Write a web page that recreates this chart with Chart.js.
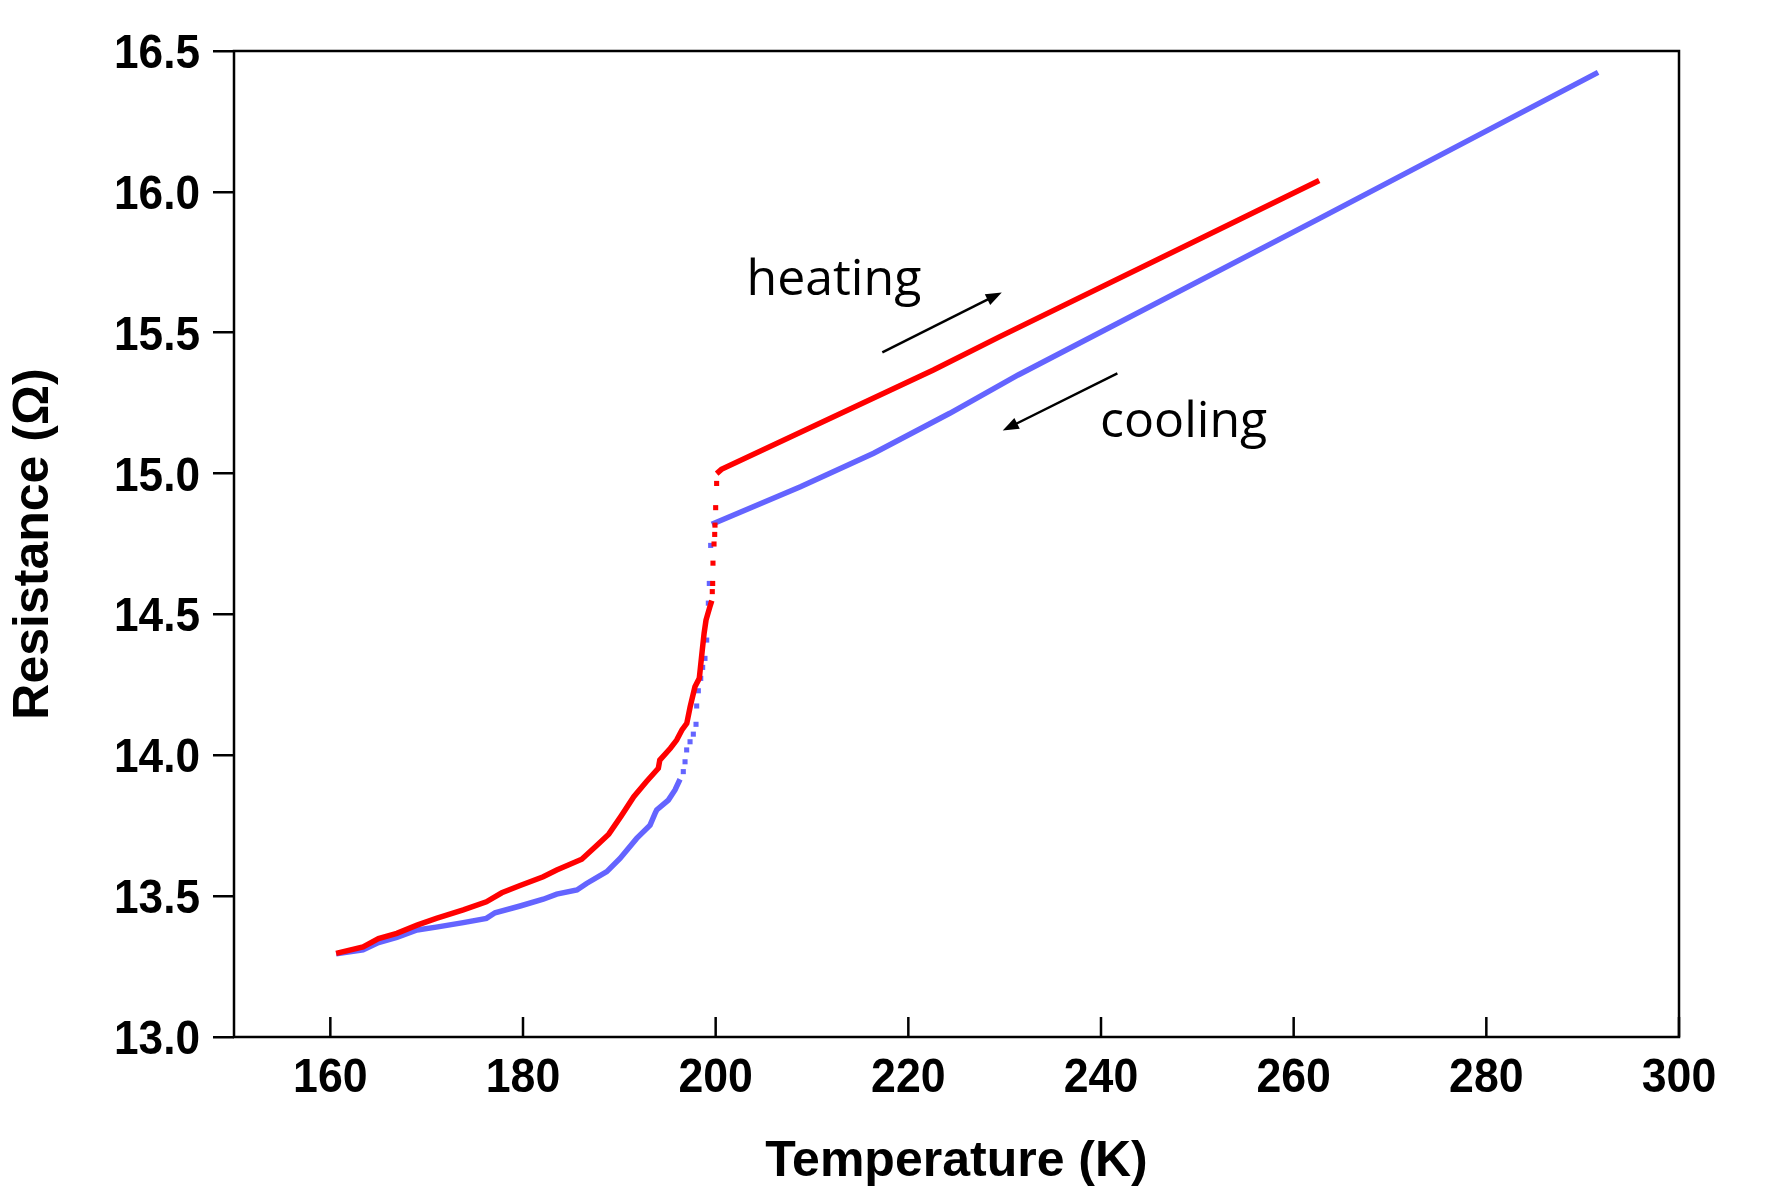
<!DOCTYPE html>
<html>
<head>
<meta charset="utf-8">
<script src="https://cdn.jsdelivr.net/npm/chart.js@4.4.1/dist/chart.umd.min.js"></script>
<style>
  html, body { margin: 0; padding: 0; background: #ffffff; }
  #wrap { width: 1787px; height: 1192px; }
</style>
</head>
<body>
<div id="wrap"><canvas id="mychart" width="1787" height="1192"></canvas></div>
<script>
// heating run (red)
const heatLowT = [160.6, 163.4, 165.0, 166.9, 169.0, 171.0, 173.8, 176.2, 177.8, 179.7, 182.1, 183.5, 186.1,
  187.65, 188.9, 190.2, 191.5, 192.8, 194.05, 194.2, 195.3, 195.95, 196.5, 197.0, 197.35, 197.85, 198.3,
  198.6, 198.8, 199.0, 199.4, 199.6];
const heatLowR = [13.297, 13.32, 13.349, 13.368, 13.397, 13.421, 13.451, 13.48, 13.512, 13.538, 13.569, 13.593, 13.631,
  13.68, 13.72, 13.785, 13.853, 13.906, 13.954, 13.983, 14.025, 14.054, 14.09, 14.113, 14.172, 14.243, 14.273,
  14.37, 14.433, 14.48, 14.527, 14.549];
const heatJumpT = [199.65, 199.69, 199.72, 199.83, 199.9, 199.93, 200.0, 200.1];
const heatJumpR = [14.581, 14.61, 14.682, 14.75, 14.784, 14.817, 14.879, 14.965];
const heatHighT = [200.1, 200.6, 222.6, 229.5, 262.65];
const heatHighR = [15.0, 15.015, 15.368, 15.486, 16.04];

// cooling run (blue)
const coolHighT = [291.6, 262.7, 231.4, 224.3, 216.4, 208.8, 199.6];
const coolHighR = [16.424, 15.906, 15.35, 15.214, 15.072, 14.953, 14.82];
const coolJumpT = [199.48, 199.34, 199.24, 199.07, 198.89, 198.65, 198.45, 198.2, 198.03, 197.96, 197.68, 197.34,
  196.99, 196.82, 196.64];
const coolJumpR = [14.745, 14.61, 14.54, 14.409, 14.344, 14.312, 14.273, 14.229, 14.175, 14.11, 14.075, 14.048,
  14.019, 13.977, 13.942];
const coolLowT = [196.3, 195.78, 195.09, 193.88, 193.71, 193.19, 191.8, 190.07, 188.7, 186.6, 185.6, 183.5, 182.1,
  179.7, 177.1, 176.2, 173.8, 171.0, 169.0, 166.9, 165.0, 163.4, 160.6];
const coolLowR = [13.915, 13.877, 13.841, 13.806, 13.794, 13.752, 13.705, 13.634, 13.587, 13.545, 13.522, 13.507, 13.489,
  13.465, 13.441, 13.421, 13.406, 13.39, 13.38, 13.354, 13.335, 13.309, 13.295];

const xTicks = [160, 180, 200, 220, 240, 260, 280, 300];
const yTicks = [13.0, 13.5, 14.0, 14.5, 15.0, 15.5, 16.0, 16.5];

const RED = '#ff0000';
const BLUE = '#6464ff';
const titleFont = "'Liberation Sans', Arial, sans-serif";

function pts(T, R) {
  return T.map((t, i) => ({x: t, y: R[i]}));
}

function curve(T, R, color) {
  return {data: pts(T, R), showLine: true, borderColor: color, backgroundColor: color,
    borderWidth: 5.5, pointRadius: 0, tension: 0};
}

function dots(T, R, color) {
  return {data: pts(T, R), showLine: false, backgroundColor: color, borderWidth: 0,
    pointStyle: 'rect', pointRadius: 3.6};
}

// frame, inward x ticks, narrow tick labels, arrows and labels
const framePlugin = {
  id: 'frame',
  afterDraw: (chart) => {
    const c = chart.ctx;
    const a = chart.chartArea;
    const xs = chart.scales.x, ys = chart.scales.y;
    c.save();
    c.strokeStyle = '#000';
    c.fillStyle = '#000';
    c.lineWidth = 2.5;
    c.strokeRect(a.left, a.top, a.right - a.left, a.bottom - a.top);
    c.beginPath();
    xTicks.forEach(v => {
      const px = xs.getPixelForValue(v);
      c.moveTo(px, a.bottom);
      c.lineTo(px, a.bottom - 20);
    });
    c.stroke();

    // tick labels in a condensed bold face
    c.font = "bold 48px 'Liberation Sans', Arial, sans-serif";
    c.textBaseline = 'alphabetic';
    yTicks.forEach(v => {
      c.save();
      c.translate(a.left - 34, ys.getPixelForValue(v) + 17);
      c.scale(0.92, 1);
      c.textAlign = 'right';
      c.fillText(v.toFixed(1), 0, 0);
      c.restore();
    });
    xTicks.forEach(v => {
      c.save();
      c.translate(xs.getPixelForValue(v), a.bottom + 55);
      c.scale(0.93, 1);
      c.textAlign = 'center';
      c.fillText(String(v), 0, 0);
      c.restore();
    });

    const arrow = (t0, r0, t1, r1) => {
      const x0 = xs.getPixelForValue(t0), y0 = ys.getPixelForValue(r0);
      const x1 = xs.getPixelForValue(t1), y1 = ys.getPixelForValue(r1);
      const ang = Math.atan2(y1 - y0, x1 - x0);
      const L = 16, W = 6;
      c.lineWidth = 2.5;
      c.beginPath();
      c.moveTo(x0, y0);
      c.lineTo(x1 - L * 0.8 * Math.cos(ang), y1 - L * 0.8 * Math.sin(ang));
      c.stroke();
      c.beginPath();
      c.moveTo(x1, y1);
      c.lineTo(x1 - L * Math.cos(ang) + W * Math.sin(ang), y1 - L * Math.sin(ang) - W * Math.cos(ang));
      c.lineTo(x1 - L * Math.cos(ang) - W * Math.sin(ang), y1 - L * Math.sin(ang) + W * Math.cos(ang));
      c.closePath();
      c.fill();
    };
    arrow(217.3, 15.43, 229.7, 15.643);
    arrow(241.7, 15.356, 229.8, 15.153);

    c.font = "50px 'Open Sans', 'Noto Sans', sans-serif";
    c.textAlign = 'left';
    c.fillText('heating', xs.getPixelForValue(203.2), ys.getPixelForValue(15.635));
    c.fillText('cooling', xs.getPixelForValue(239.9), ys.getPixelForValue(15.13));
    c.restore();
  }
};

new Chart(document.getElementById('mychart'), {
  type: 'scatter',
  data: {
    datasets: [
      curve(heatLowT, heatLowR, RED),
      dots(heatJumpT, heatJumpR, RED),
      curve(heatHighT, heatHighR, RED),
      curve(coolHighT, coolHighR, BLUE),
      dots(coolJumpT, coolJumpR, BLUE),
      curve(coolLowT, coolLowR, BLUE)
    ]
  },
  options: {
    responsive: false,
    devicePixelRatio: 1,
    animation: false,
    layout: {padding: {left: 0, right: 108, top: 51, bottom: 0}},
    plugins: {legend: {display: false}, tooltip: {enabled: false}},
    scales: {
      x: {
        type: 'linear',
        min: 150,
        max: 300,
        afterFit: (s) => { s.height = 155; },
        grid: {display: false},
        border: {display: false},
        ticks: {display: false, stepSize: 20, includeBounds: false},
        title: {
          display: true,
          text: 'Temperature (K)',
          color: '#000',
          padding: {top: 0, bottom: 0},
          font: {family: titleFont, size: 50, weight: 'bold'}
        }
      },
      y: {
        type: 'linear',
        min: 13,
        max: 16.5,
        afterFit: (s) => { s.width = 234; },
        grid: {drawOnChartArea: false, drawTicks: true, tickLength: 21, color: '#000', lineWidth: 2.5},
        border: {display: false},
        ticks: {display: false, stepSize: 0.5},
        title: {
          display: true,
          text: 'Resistance (Ω)',
          color: '#000',
          padding: {top: 4, bottom: 0},
          font: {family: titleFont, size: 50, weight: 'bold'}
        }
      }
    }
  },
  plugins: [framePlugin]
});
</script>
</body>
</html>
